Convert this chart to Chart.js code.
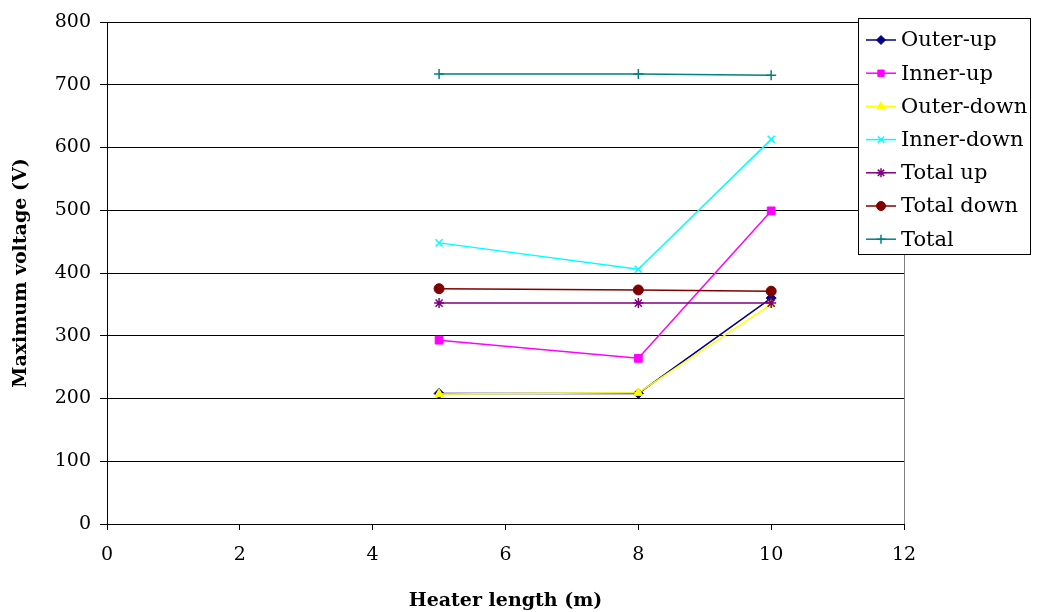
<!DOCTYPE html>
<html>
<head>
<meta charset="utf-8">
<script src="https://cdn.jsdelivr.net/npm/chart.js@4/dist/chart.umd.min.js"></script>
<style>
  html, body { margin: 0; padding: 0; background: #fff; }
  #wrap { width: 1039px; height: 612px; position: relative; }
</style>
</head>
<body>
<div id="wrap"><canvas id="voltChart"></canvas></div>
<script>
// --- Data ---
const heaterLengths = [5, 8, 10];
const outerUp   = [208, 208, 360];
const innerUp   = [293, 264, 499];
const outerDown = [207, 209, 350];
const innerDown = [448, 406, 613];
const totalUp   = [352, 352, 352];
const totalDown = [375, 373, 371];
const total     = [717, 717, 715];

const seriesNames = ['Outer-up', 'Inner-up', 'Outer-down', 'Inner-down', 'Total up', 'Total down', 'Total'];
const seriesValues = [outerUp, innerUp, outerDown, innerDown, totalUp, totalDown, total];
const seriesColors = ['#000080', '#FF00FF', '#FFFF00', '#00FFFF', '#800080', '#800000', '#008080'];
const seriesMarkers = ['rectRot', 'rect', 'triangle', 'crossRot', 'star', 'circle', 'cross'];

const FONT = '"DejaVu Serif", serif';

const datasets = seriesNames.map((name, i) => ({
    label: name,
    data: heaterLengths.map((x, j) => ({ x: x, y: seriesValues[i][j] })),
    borderColor: seriesColors[i],
    backgroundColor: seriesColors[i],
    borderWidth: 1.5,
    pointStyle: seriesMarkers[i],
    pointRadius: seriesMarkers[i] === 'rect' ? 5.5 : 5,
    pointBorderWidth: ['crossRot', 'star', 'cross'].includes(seriesMarkers[i]) ? 1.5 : 1,
    tension: 0,
    order: -i // later series drawn on top, like the original
}));

// Plot frame: right border line
const frameBorder = {
    id: 'frameBorder',
    afterDraw(chart) {
        const { ctx, chartArea } = chart;
        ctx.save();
        ctx.strokeStyle = '#808080';
        ctx.lineWidth = 1;
        ctx.beginPath();
        ctx.moveTo(Math.round(chartArea.right) + 0.5, chartArea.top);
        ctx.lineTo(Math.round(chartArea.right) + 0.5, chartArea.bottom);
        ctx.stroke();
        ctx.restore();
    }
};

// Boxed legend drawn over the top right corner
const boxLegend = {
    id: 'boxLegend',
    afterDraw(chart) {
        const ctx = chart.ctx;
        const box = { x: 858.5, y: 18.5, w: 172, h: 236 };
        ctx.save();
        ctx.fillStyle = '#fff';
        ctx.fillRect(box.x, box.y, box.w, box.h);
        ctx.strokeStyle = '#000';
        ctx.lineWidth = 1;
        ctx.strokeRect(box.x, box.y, box.w, box.h);
        ctx.font = '21px ' + FONT;
        ctx.textBaseline = 'middle';
        chart.data.datasets.forEach((ds, i) => {
            const cy = 40 + i * 33.2;
            ctx.strokeStyle = ds.borderColor;
            ctx.lineWidth = 1.5;
            ctx.beginPath();
            ctx.moveTo(866, cy);
            ctx.lineTo(896, cy);
            ctx.stroke();
            ctx.fillStyle = ds.backgroundColor;
            ctx.strokeStyle = ds.borderColor;
            ctx.lineWidth = ds.pointBorderWidth;
            Chart.helpers.drawPoint(ctx, {
                pointStyle: ds.pointStyle,
                radius: 4.5,
                borderWidth: ds.pointBorderWidth,
                rotation: 0
            }, 881, cy);
            ctx.fillStyle = '#000';
            ctx.fillText(ds.label, 901, cy + 1);
        });
        ctx.restore();
    }
};

new Chart(document.getElementById('voltChart'), {
    type: 'line',
    data: { datasets: datasets },
    options: {
        responsive: true,
        maintainAspectRatio: false,
        animation: false,
        layout: { padding: { left: 10, top: 22, right: 135, bottom: 0 } },
        plugins: {
            legend: { display: false },
            tooltip: { enabled: false }
        },
        scales: {
            x: {
                type: 'linear',
                min: 0, max: 12,
                ticks: { stepSize: 2, color: '#000', font: { family: FONT, size: 19 }, padding: 14 },
                grid: { drawOnChartArea: false, drawTicks: true, tickLength: 6, color: '#000' },
                border: { color: '#000', width: 1 },
                title: {
                    display: true, text: 'Heater length (m)', color: '#000',
                    font: { family: FONT, size: 19, weight: 'bold' },
                    padding: { top: 20, bottom: 0 }
                },
                afterFit(scale) { scale.height = 88; }
            },
            y: {
                min: 0, max: 800,
                ticks: { stepSize: 100, color: '#000', font: { family: FONT, size: 19 }, padding: 9 },
                grid: { color: '#000', tickLength: 7, lineWidth: 1 },
                border: { color: '#000', width: 1 },
                title: {
                    display: true, text: 'Maximum voltage (V)', color: '#000',
                    font: { family: FONT, size: 19, weight: 'bold' },
                    padding: { top: 0, bottom: 4 }
                },
                afterFit(scale) { scale.width = 97; }
            }
        }
    },
    plugins: [frameBorder, boxLegend]
});
</script>
</body>
</html>
